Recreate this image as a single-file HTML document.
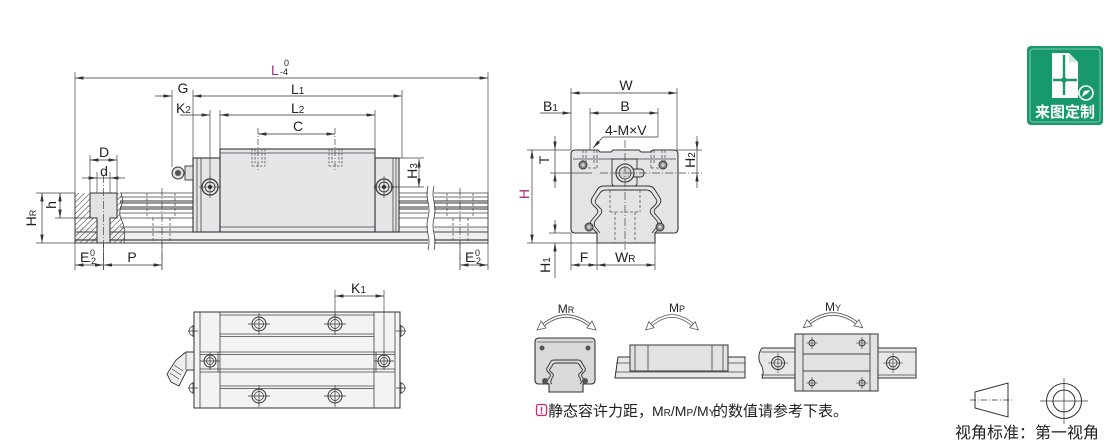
<!DOCTYPE html>
<html><head><meta charset="utf-8"><style>
html,body{margin:0;padding:0;background:#fff;}
svg{display:block;}
text{font-family:"Liberation Sans",Arial,sans-serif;fill:#222;}
.cjk{font-family:"Liberation Sans","Noto Sans CJK SC",sans-serif;}
</style></head><body>
<svg width="1110" height="442" viewBox="0 0 1110 442" xmlns="http://www.w3.org/2000/svg">
<defs>
<marker id="a" viewBox="0 0 10 4" refX="10" refY="2" markerWidth="9" markerHeight="3.4" markerUnits="userSpaceOnUse" orient="auto-start-reverse"><path d="M0,0L10,2L0,4z" fill="#333"/></marker>
<pattern id="hat" width="4" height="4" patternUnits="userSpaceOnUse" patternTransform="rotate(45)"><line x1="0" y1="0" x2="0" y2="4" stroke="#333" stroke-width="1"/></pattern>
</defs>
<rect width="1110" height="442" fill="#fff"/>

<!-- ================= FRONT VIEW ================= -->
<rect x="75" y="193" width="413" height="50" fill="#fff"/>
<rect x="75" y="227" width="413" height="16" fill="#efefef"/>
<g stroke="#444" stroke-width="0.8" fill="none">
<path d="M120,193H193 M120,197H193 M120,213H193 M120,218H193 M120,227H193 M399,193H488 M399,197H488 M399,213H488 M399,218H488 M399,227H488"/>
<path d="M75,232H488 M75,243H488" stroke-width="1"/>
<path d="M75,240H488" stroke-width="1.2"/>
<path d="M488,193V243"/>
</g>
<g stroke="#333" stroke-width="1.1" fill="none">
<path d="M120,201H193 M120,203H193 M120,207H193 M120,209H193 M399,201H488 M399,203H488 M399,207H488 M399,209H488"/>
</g>
<g stroke="#555" stroke-width="0.8" fill="none" stroke-dasharray="3 2">
<path d="M147,193V218 M175,193V218 M147,218H175 M153,218V243 M170,218V243"/>
<path d="M447,193V218 M473,193V218 M447,218H473 M453,218V243 M468,218V243"/>
</g>
<path d="M75,193H121Q124,200 121,207Q118,214 122,221Q126,230 124,243H75Z" fill="url(#hat)" stroke="none"/>
<path d="M121,193Q124,200 121,207Q118,214 122,221Q126,230 124,243" fill="none" stroke="#444" stroke-width="0.8"/>
<path d="M75,193V243" stroke="#333" stroke-width="1"/>
<path d="M90,193H117V218H110V243H97V218H90Z" fill="#e2e2e2" stroke="#333" stroke-width="1"/>
<rect x="428" y="186" width="6" height="64" fill="#fff"/>
<path d="M428,186q-2,8 0,16q2,8 0,16q-2,8 0,16q2,8 0,16 M434,186q-2,8 0,16q2,8 0,16q-2,8 0,16q2,8 0,16" fill="none" stroke="#444" stroke-width="0.8"/>

<g stroke="#333" stroke-width="1.1" fill="#e6e6e8">
<rect x="193" y="158" width="27" height="74"/>
<rect x="375" y="158" width="24" height="74"/>
<rect x="220" y="149" width="155" height="83"/>
</g>
<g stroke="#444" stroke-width="0.8" fill="none">
<path d="M197,158V232 M201,158V232 M393,158V232 M396,158V232 M220,153H375 M220,227H375"/>
</g>
<g stroke="#555" stroke-width="0.8" fill="none" stroke-dasharray="2.5 1.5">
<path d="M252,149V166 M265,149V166 M255,149V163 M262,149V163 M252,166H265"/>
<path d="M329,149V166 M342,149V166 M332,149V163 M339,149V163 M329,166H342"/>
</g>
<rect x="185" y="166" width="8" height="14" fill="#e0e0e0" stroke="#333" stroke-width="0.9"/>
<circle cx="178" cy="173" r="6" fill="#ddd" stroke="#333" stroke-width="1"/>
<circle cx="178" cy="173" r="3" fill="#555"/>
<g stroke="#333" fill="none">
<circle cx="210" cy="187" r="8" stroke-width="1.2"/><circle cx="210" cy="187" r="5" stroke-width="0.9"/><circle cx="210" cy="187" r="1.6" fill="#333"/>
<circle cx="384" cy="187" r="8" stroke-width="1.2"/><circle cx="384" cy="187" r="5" stroke-width="0.9"/><circle cx="384" cy="187" r="1.6" fill="#333"/>
<path d="M199,187H221 M210,176V198 M373,187H395 M384,176V198" stroke-width="0.6"/>
</g>

<g stroke="#444" stroke-width="0.7" fill="none">
<path d="M75,72V270 M488,72V270 M172,90V167 M193,90V158 M210,110V179 M220,110V149 M375,110V149 M402,90V158"/>
<path d="M258,128V172 M335,128V172" stroke-dasharray="6 2 1 2"/>
<path d="M399,158H424 M393,187H424"/>
<path d="M90,155V193 M117,155V193 M97,172V193 M110,172V193"/>
<path d="M36,193H75 M55,218H90 M36,243H75"/>
<path d="M103.5,175V270 M162,188V270 M460,188V270" stroke-dasharray="8 2 1 2"/>
<path d="M103.5,243V270 M162,243V270 M460,243V270"/>
</g>
<g stroke="#333" stroke-width="0.7" fill="none">
<path d="M75,78H488" marker-start="url(#a)" marker-end="url(#a)"/>
<path d="M155,96H172" marker-end="url(#a)"/>
<path d="M193,96H402" marker-start="url(#a)" marker-end="url(#a)"/>
<path d="M180,115H210" marker-end="url(#a)"/>
<path d="M220,115H375" marker-start="url(#a)" marker-end="url(#a)"/>
<path d="M258,134H335" marker-start="url(#a)" marker-end="url(#a)"/>
<path d="M419,159V187" marker-start="url(#a)" marker-end="url(#a)"/>
<path d="M90,160H117" marker-start="url(#a)" marker-end="url(#a)"/>
<path d="M82,178H97" marker-end="url(#a)"/>
<path d="M125,178H110" marker-end="url(#a)"/>
<path d="M97,178H110"/>
<path d="M60,193V218" marker-start="url(#a)" marker-end="url(#a)"/>
<path d="M42,193V243" marker-start="url(#a)" marker-end="url(#a)"/>
<path d="M75,265H103.5" marker-start="url(#a)" marker-end="url(#a)"/>
<path d="M103.5,265H162" marker-start="url(#a)" marker-end="url(#a)"/>
<path d="M460,265H488" marker-start="url(#a)" marker-end="url(#a)"/>
</g>
<g font-size="14">
<text x="271" y="75" style="fill:#a0307c">L</text>
<text x="280" y="75" font-size="9">-4</text>
<text x="284" y="66" font-size="9">0</text>
<text x="183" y="93" text-anchor="middle">G</text>
<text x="291" y="94">L<tspan font-size="10">1</tspan></text>
<text x="176" y="113">K<tspan font-size="10">2</tspan></text>
<text x="291" y="113">L<tspan font-size="10">2</tspan></text>
<text x="298" y="131" text-anchor="middle">C</text>
<text x="104" y="157" text-anchor="middle">D</text>
<text x="104" y="176" text-anchor="middle">d</text>
<text transform="translate(56,205) rotate(-90)" text-anchor="middle">h</text>
<text transform="translate(36,218) rotate(-90)" text-anchor="middle">H<tspan font-size="9">R</tspan></text>
<text transform="translate(417,171) rotate(-90)" text-anchor="middle">H<tspan font-size="10">3</tspan></text>
<text x="80" y="262">E</text><text x="88" y="264" font-size="9">-2</text><text x="90" y="256" font-size="9">0</text>
<text x="132" y="262" text-anchor="middle">P</text>
<text x="465" y="262">E</text><text x="473" y="264" font-size="9">-2</text><text x="475" y="256" font-size="9">0</text>
</g>

<!-- ================= SIDE VIEW ================= -->
<path d="M571,154Q571,150 575,150H598L600,152H611L613,150H639L641,152H651L653,150H674Q678,150 678,154V229Q678,233 674,233H655V243H597V233H575Q571,233 571,229Z" fill="#e4e4e6" stroke="#333" stroke-width="1.1"/>
<path d="M573,159H676" stroke="#444" stroke-width="0.8"/>
<g fill="none" stroke="#333" stroke-width="0.9">
<path d="M626,186H604Q599,186 597,190L592,198Q590,202 593,205L597,209Q599,212 596,215L591,221Q589,225 592,228L597,233"/>
<path d="M626,186H648Q653,186 655,190L660,198Q662,202 659,205L655,209Q653,212 656,215L661,221Q663,225 660,228L655,233"/>
<path d="M626,190H606Q602,190 600,193L596,199Q594,202 597,205L601,209Q603,212 600,215L595,221Q593,225 596,228L600,233"/>
<path d="M626,190H646Q650,190 652,193L656,199Q658,202 655,205L651,209Q649,212 652,215L657,221Q659,225 656,228L652,233"/>
</g>
<g stroke="#555" stroke-width="0.8" fill="none" stroke-dasharray="3 2">
<path d="M610,190V212 M640,190V212 M615,212V243 M635,212V243 M610,212H640"/>
<path d="M583,150V168 M597,150V168 M586,150V165 M594,150V165 M583,168H597"/>
<path d="M651,150V168 M665,150V168 M654,150V165 M662,150V165 M651,168H665"/>
</g>
<path d="M612,159H637V183Q637,186 634,186H615Q612,186 612,183Z" fill="#e4e4e6" stroke="#333" stroke-width="0.9"/>
<path d="M633,169H640Q644,169 644,173Q644,177 640,177H633Z" fill="#ddd" stroke="#333" stroke-width="0.9"/>
<circle cx="625" cy="173" r="9" fill="#e0e0e0" stroke="#333" stroke-width="1.1"/>
<circle cx="625" cy="173" r="6" fill="#d0d0d0" stroke="#333" stroke-width="0.8"/>
<g fill="#888" stroke="#333" stroke-width="0.9">
<circle cx="583" cy="165" r="4"/><circle cx="663" cy="165" r="4"/><circle cx="589" cy="227" r="4"/><circle cx="660" cy="227" r="4"/>
</g>
<g stroke="#fff" stroke-width="0.7"><path d="M581,165H585 M583,163V167 M661,165H665 M663,163V167 M587,227H591 M589,225V229 M658,227H662 M660,225V229"/></g>
<g stroke="#444" stroke-width="0.7" fill="none">
<path d="M571,88V150 M677,88V150 M590,108V150 M658,108V137"/>
<path d="M527,150H571 M550,173H592 M677,150H702 M527,243H597 M549,233H571"/>
<path d="M571,233V270 M597,243V270 M655,243V270"/>
<path d="M625,140V250 M600,173H702" stroke-dasharray="8 2 1 2"/>
</g>
<g stroke="#333" stroke-width="0.7" fill="none">
<path d="M571,93H677" marker-start="url(#a)" marker-end="url(#a)"/>
<path d="M540,113H571" marker-end="url(#a)"/>
<path d="M590,113H658" marker-start="url(#a)" marker-end="url(#a)"/>
<path d="M658,137H603L593,148" marker-end="url(#a)"/>
<path d="M555,136V150" marker-end="url(#a)"/>
<path d="M555,188V173" marker-end="url(#a)"/>
<path d="M555,150V173"/>
<path d="M532,150V243" marker-start="url(#a)" marker-end="url(#a)"/>
<path d="M697,136V150" marker-end="url(#a)"/>
<path d="M697,188V173" marker-end="url(#a)"/>
<path d="M697,150V173"/>
<path d="M555,220V233" marker-end="url(#a)"/>
<path d="M555,278V243" marker-end="url(#a)"/>
<path d="M571,265H597" marker-start="url(#a)" marker-end="url(#a)"/>
<path d="M597,265H655" marker-start="url(#a)" marker-end="url(#a)"/>
</g>
<g font-size="14">
<text x="626" y="90" text-anchor="middle">W</text>
<text x="543" y="111">B<tspan font-size="10">1</tspan></text>
<text x="625" y="111" text-anchor="middle">B</text>
<text x="605" y="135">4-M×V</text>
<text transform="translate(549,160) rotate(-90)" text-anchor="middle">T</text>
<text transform="translate(529,194) rotate(-90)" text-anchor="middle" style="fill:#a0307c">H</text>
<text transform="translate(695,160) rotate(-90)" text-anchor="middle">H<tspan font-size="10">2</tspan></text>
<text transform="translate(550,265) rotate(-90)" text-anchor="middle">H<tspan font-size="10">1</tspan></text>
<text x="584" y="262" text-anchor="middle">F</text>
<text x="615" y="262">W<tspan font-size="10">R</tspan></text>
</g>

<!-- ================= TOP VIEW ================= -->
<rect x="194" y="312" width="206" height="96" fill="#f3f3f3" stroke="#333" stroke-width="1"/>
<g stroke="#444" stroke-width="0.8" fill="none">
<path d="M200,312V408 M220,312V408 M374,312V408 M395,312V408"/>
<path d="M220,315H374 M220,334H374 M220,336.5H374 M200,352H395 M200,354.5H395 M200,369H395 M200,372H395 M220,386H374 M220,388.5H374"/>
<path d="M218,352V372 M376,352V372"/>
</g>
<g stroke="#333" fill="none">
<g stroke-width="1"><circle cx="259" cy="324" r="7"/><circle cx="335" cy="324" r="7"/><circle cx="259" cy="396" r="7"/><circle cx="335" cy="396" r="7"/>
<circle cx="210" cy="361" r="6"/><circle cx="384" cy="361" r="6"/></g>
<g stroke-width="0.7"><circle cx="259" cy="324" r="4.5"/><circle cx="335" cy="324" r="4.5"/><circle cx="259" cy="396" r="4.5"/><circle cx="335" cy="396" r="4.5"/>
<circle cx="210" cy="361" r="3.5"/><circle cx="384" cy="361" r="3.5"/>
<path d="M248,324H270 M259,313V335 M324,324H346 M335,313V335 M248,396H270 M259,385V407 M324,396H346 M335,385V407 M200,361H220 M210,352V370 M374,361H394 M384,352V370"/>
<path d="M188,331H198 M193,325V337 M188,388H198 M193,382V394 M396,331H406 M401,325V337 M396,388H406 M401,382V394"/>
<path d="M194,326A5,5 0 0 0 194,336 M194,383A5,5 0 0 0 194,393 M400,326A5,5 0 0 1 400,336 M400,383A5,5 0 0 1 400,393"/>
</g>
</g>
<path d="M194,352V370H187L179,386L171,382L167,374L176,360L186,352Z" fill="#eee" stroke="#333" stroke-width="0.9"/>
<path d="M186,352V370 M170,373L179,379 M172,369L181,375 M174,365L183,371" stroke="#444" stroke-width="0.7" fill="none"/>
<g stroke="#444" stroke-width="0.7" fill="none"><path d="M335,290V317 M384,290V355"/></g>
<path d="M335,296H384" stroke="#333" stroke-width="0.7" marker-start="url(#a)" marker-end="url(#a)"/>
<text x="351" y="293" font-size="14">K<tspan font-size="10">1</tspan></text>

<!-- ================= MOMENT DIAGRAMS ================= -->
<g>
<path d="M542,326Q566,306 591,326" fill="none" stroke="#555" stroke-width="3.4"/>
<path d="M542,326Q566,306 591,326" fill="none" stroke="#fff" stroke-width="1.8"/>
<polygon points="537,330 546,328 541,321" fill="#fff" stroke="#555" stroke-width="0.8"/>
<polygon points="596,330 587,328 592,321" fill="#fff" stroke="#555" stroke-width="0.8"/>
<path d="M650,326Q672,306 694,326" fill="none" stroke="#555" stroke-width="3.4"/>
<path d="M650,326Q672,306 694,326" fill="none" stroke="#fff" stroke-width="1.8"/>
<polygon points="645.6,330 654.2,327.7 648.8,321.7" fill="#fff" stroke="#555" stroke-width="0.8"/>
<polygon points="698.4,330 689.8,327.7 695.2,321.7" fill="#fff" stroke="#555" stroke-width="0.8"/>
<path d="M808,324Q833,304 858,324" fill="none" stroke="#555" stroke-width="3.4"/>
<path d="M808,324Q833,304 858,324" fill="none" stroke="#fff" stroke-width="1.8"/>
<polygon points="803.3,327.7 812.1,325.9 807.1,319.7" fill="#fff" stroke="#555" stroke-width="0.8"/>
<polygon points="862.7,327.7 853.9,325.9 858.9,319.7" fill="#fff" stroke="#555" stroke-width="0.8"/>
</g>
<g font-size="12">
<text x="566" y="313" text-anchor="middle">M<tspan font-size="9">R</tspan></text>
<text x="677" y="312" text-anchor="middle">M<tspan font-size="9">P</tspan></text>
<text x="833" y="311" text-anchor="middle">M<tspan font-size="9">Y</tspan></text>
</g>
<path d="M535,342Q535,338 539,338H591Q595,338 595,342V380Q595,384 591,384H583V392H549V384H539Q535,384 535,380Z" fill="#dadada" stroke="#333" stroke-width="1.1"/>
<path d="M537,342H593" stroke="#555" stroke-width="0.7"/>
<g fill="none" stroke="#333" stroke-width="0.9">
<path d="M566,360H554Q551,360 550,363L547,368Q546,370 548,372L550,374Q551,376 549,378L547,381Q546,383 549,384"/>
<path d="M566,360H578Q581,360 582,363L585,368Q586,370 584,372L582,374Q581,376 583,378L585,381Q586,383 583,384"/>
<path d="M566,363H556Q553,363 552,366L550,369Q549,371 551,372L553,374Q554,376 552,378L551,381Q550,383 552,384"/>
<path d="M566,363H576Q579,363 580,366L582,369Q583,371 581,372L579,374Q578,376 580,378L581,381Q582,383 580,384"/>
</g>
<g fill="#555"><circle cx="542" cy="348" r="2.5"/><circle cx="588" cy="348" r="2.5"/><circle cx="545" cy="381" r="3"/><circle cx="585" cy="381" r="3"/></g>
<path d="M618,357H745V378H615Z" fill="#e8e8e8" stroke="#333" stroke-width="1"/>
<path d="M616,363H745 M615,372H745" stroke="#444" stroke-width="0.8"/>
<rect x="630" y="345" width="98" height="26" fill="#e2e2e2" stroke="#333" stroke-width="1"/>
<path d="M635,345V371 M648,345V371 M712,345V371 M723,345V371" stroke="#444" stroke-width="0.8"/>
<path d="M762,348H916V378H762Q765,370 760,363Q757,355 762,348Z" fill="#e8e8e8" stroke="#333" stroke-width="1"/>
<path d="M761,352H916 M761,375H916" stroke="#444" stroke-width="0.8"/>
<rect x="795" y="334" width="83" height="57" fill="#e2e2e2" stroke="#333" stroke-width="1"/>
<path d="M803,334V391 M870,334V391 M803,354H870 M803,371H870" stroke="#444" stroke-width="0.9"/>
<g stroke="#333" fill="none">
<circle cx="778" cy="363" r="6.5" stroke-width="1"/><circle cx="778" cy="363" r="4" stroke-width="0.8"/>
<circle cx="893" cy="363" r="6.5" stroke-width="1"/><circle cx="893" cy="363" r="4" stroke-width="0.8"/>
<path d="M768,363H788 M778,353V373 M883,363H903 M893,353V373" stroke-width="0.6"/>
<g stroke-width="0.9"><circle cx="812" cy="343" r="3"/><circle cx="862" cy="343" r="3"/><circle cx="812" cy="383" r="3"/><circle cx="862" cy="383" r="3"/></g>
<path d="M806,343H818 M812,337V349 M856,343H868 M862,337V349 M806,383H818 M812,377V389 M856,383H868 M862,377V389" stroke-width="0.6"/>
</g>

<rect x="536.5" y="404.5" width="10" height="11" rx="2" fill="none" stroke="#d2276e" stroke-width="1.3"/>
<text x="541.5" y="414" font-size="10" font-weight="bold" text-anchor="middle" style="fill:#d2276e">!</text>
<text class="cjk" x="548" y="416" font-size="15">静态容许力距，</text>
<text x="652" y="416" font-size="14">M<tspan font-size="10">R</tspan>/M<tspan font-size="10">P</tspan>/M<tspan font-size="10">Y</tspan></text>
<text class="cjk" x="713" y="416" font-size="15">的数值请参考下表。</text>

<rect x="1027" y="46" width="76" height="79" rx="4" fill="#17996c"/>
<rect x="1030" y="49" width="70" height="73" rx="3" fill="none" stroke="#fff" stroke-opacity="0.6" stroke-width="0.8"/>
<path d="M1052,53H1069L1078,62V98H1052Z" fill="#fff"/>
<path d="M1069,53V62H1078Z" fill="#cfe8de"/>
<path d="M1064,55V95 M1053,80H1077" stroke="#17996c" stroke-width="2.4"/>
<circle cx="1064" cy="80" r="2.8" fill="#17996c"/>
<circle cx="1086" cy="93" r="7" fill="#17996c" stroke="#fff" stroke-width="1.6"/>
<path d="M1082,97L1084,91L1090,90L1088,93Z" fill="#fff"/>
<text class="cjk" x="1065" y="117" font-size="15" font-weight="bold" text-anchor="middle" style="fill:#fff">来图定制</text>

<path d="M975,392L1008,383V417L975,408Z" fill="none" stroke="#333" stroke-width="1"/>
<path d="M970,400H1014" stroke="#333" stroke-width="0.7" stroke-dasharray="6 2 1 2"/>
<g stroke="#333" fill="none">
<circle cx="1064" cy="401" r="17.5" stroke-width="1"/>
<circle cx="1064" cy="401" r="11" stroke-width="1"/>
<path d="M1040,401H1088 M1064,378V424" stroke-width="0.7"/>
</g>
<text class="cjk" x="955" y="438" font-size="16">视角标准：第一视角</text>
</svg>
</body></html>
